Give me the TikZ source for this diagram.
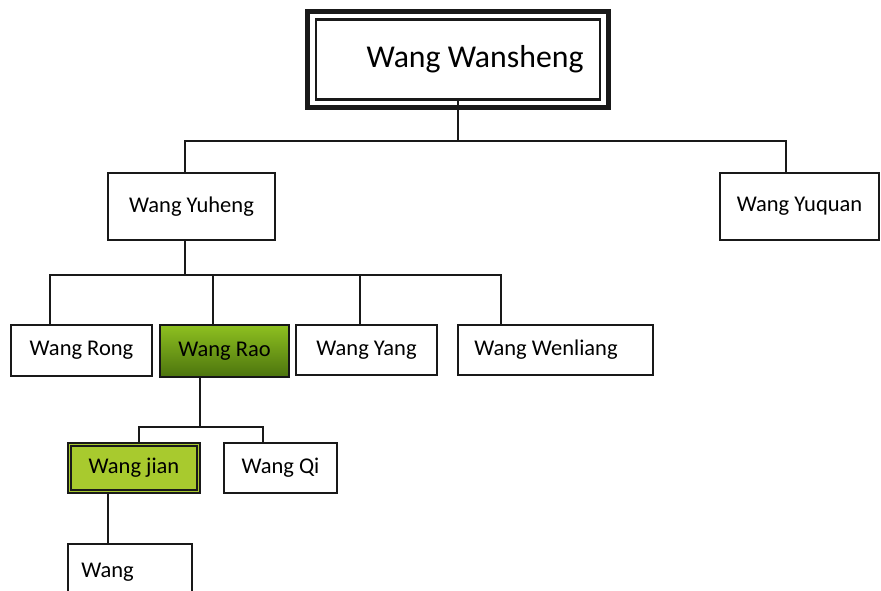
\documentclass[tikz,border=0pt]{standalone}
\usepackage{fontspec}
\setmainfont{Carlito}
\usetikzlibrary{positioning,calc}
\definecolor{ink}{RGB}{25,25,25}
\definecolor{raotop}{RGB}{142,192,32}
\definecolor{raobot}{RGB}{76,116,14}
\definecolor{jiangreen}{RGB}{168,202,46}

\begin{document}
\begin{tikzpicture}[x=0.025cm, y=-0.025cm,
    person/.style={draw=ink, line width=1.5pt, inner sep=0pt, font=\fontsize{16}{18}\selectfont},
    link/.style={draw=ink, line width=1.5pt}]
\useasboundingbox (0,0) rectangle (881,591);
\clip (0,0) rectangle (881,591);

% root
\node[person, minimum width=7.1cm, minimum height=2cm, font=\fontsize{22.6}{26}\selectfont] (wansheng) at (458,59.5) {\rule{0.85cm}{0pt}Wang Wansheng};
\draw[ink, line width=3.5pt] ([shift={(-7,-7)}]wansheng.north west) rectangle ([shift={(7,7)}]wansheng.south east);

% sons
\node[person, minimum width=4.175cm, minimum height=1.675cm] (yuheng) at (191.5,206.5) {Wang Yuheng};
\node[person, minimum width=3.975cm, minimum height=1.675cm] (yuquan) at (799.5,206.5) {Wang Yuquan};

% grandsons
\node[person, minimum width=3.525cm, minimum height=1.275cm] (rong) at (81.5,350.5) {Wang Rong};
\node[person, minimum width=3.225cm, minimum height=1.3cm, line width=2.1pt, draw=ink!90!black, top color=raotop, bottom color=raobot] (rao) at (224.5,351) {Wang Rao};
\node[person, minimum width=3.525cm, minimum height=1.25cm] (yang) at (366.5,350) {Wang Yang};
\node[person, minimum width=4.875cm, minimum height=1.25cm] (wenliang) at (555.5,350) {Wang Wenliang\rule{0.475cm}{0pt}};

% next generation
\node[person, minimum width=3.3cm, minimum height=1.25cm, line width=2.1pt, fill=jiangreen] (jian) at (134,468) {Wang jian};
\draw[ink, line width=1pt] ([shift={(4.5,4.5)}]jian.north west) rectangle ([shift={(-4.5,-4.5)}]jian.south east);
\node[person, minimum width=2.825cm, minimum height=1.25cm] (qi) at (280.5,468) {Wang Qi};
\node[person, minimum width=3.1cm, minimum height=1.4cm] (wang) at (130,572) {Wang\rule{1.125cm}{0pt}};

% connectors
\coordinate (b1l) at (185,141);
\coordinate (b1r) at (786,141);
\draw[link] (wansheng.south) -- (wansheng.south |- b1l);
\draw[link] (b1l |- yuheng.north) -- (b1l) -- (b1r) -- (b1r |- yuquan.north);

\coordinate (b2a) at (50,275);
\coordinate (b2b) at (213,275);
\coordinate (b2c) at (360,275);
\coordinate (b2d) at (501,275);
\draw[link] (b1l |- yuheng.south) -- (b1l |- b2a);
\draw[link] (b2a |- rong.north) -- (b2a) -- (b2d) -- (b2d |- wenliang.north);
\draw[link] (b2b) -- (b2b |- rao.north);
\draw[link] (b2c) -- (b2c |- yang.north);

\coordinate (b3a) at (139,427);
\coordinate (b3m) at (200,427);
\coordinate (b3b) at (263,427);
\draw[link] (b3m |- rao.south) -- (b3m);
\draw[link] (b3a |- jian.north) -- (b3a) -- (b3b) -- (b3b |- qi.north);

\coordinate (b4) at (108,518);
\draw[link] (b4 |- jian.south) -- (b4 |- wang.north);
\end{tikzpicture}
\end{document}
